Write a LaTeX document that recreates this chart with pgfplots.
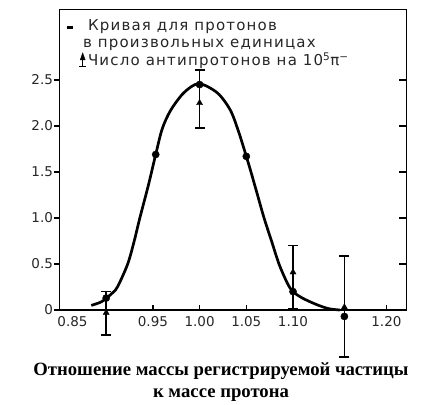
\documentclass[border=0pt]{standalone}
\usepackage{fontspec}
\setmainfont{DejaVu Sans}
\newfontfamily\legfont[LetterSpace=8]{DejaVu Sans}
\newfontfamily\serifb{Liberation Serif}
\usepackage{pgfplots}
\pgfplotsset{compat=1.18}
\begin{document}
\begin{tikzpicture}[x=1pt,y=1pt]
\path (-59.5,-95) rectangle (380.5,310);
\begin{axis}[
  at={(0,0)}, anchor=south west,
  scale only axis, width=347pt, height=300.5pt,
  xmin=0.85, xmax=1.2215, ymin=0, ymax=3.266,
  xtick={0.85,0.95,1.00,1.05,1.10,1.20},
  xticklabels={\hspace*{26pt}0.85,0.95,1.00,1.05,1.10,1.20},
  ytick={0,0.5,1,1.5,2,2.5},
  yticklabels={0,0.5,1.0,1.5,2.0,2.5},
  xtick pos=bottom, ytick pos=left,
  xtick align=inside, ytick align=outside,
  major tick length=5pt,
  tick style={line width=1.2pt, black},
  axis line style={line width=1.7pt, black},
  ticklabel style={font=\fontsize{13.5}{15}\selectfont, text=black!85},
  xticklabel style={yshift=-3pt},
  yticklabel style={xshift=2pt},
  /pgf/number format/assume math mode=true,
  clip=false,
  xlabel={Отношение массы регистрируемой частицы\\к массе протона},
  xlabel style={font=\serifb\bfseries\fontsize{18.7}{22}\selectfont, align=center,
    at={(axis description cs:0.5,0)}, anchor=north, yshift=-49pt, xshift=-12pt},
  legend style={at={(axis description cs:0,1)}, anchor=north west, draw=none, fill=none,
    xshift=5pt, yshift=-8pt,
    font=\legfont\fontsize{15}{17}\selectfont, row sep=0pt, inner sep=1pt, text=black!85,
    nodes={inner sep=1pt, text height=11pt, text depth=4pt}},
  legend cell align=left,
]
\addlegendimage{legend image code/.code={\path (0pt,0pt) (18.5pt,0pt); \draw[line width=3pt] (0pt,0pt) -- (6pt,0pt);}}
\addlegendentry{Кривая для протонов}
\addlegendimage{legend image code/.code={\path (0pt,0pt) (18.5pt,0pt);}}
\addlegendentry{\hspace*{-5pt}в произвольных единицах}
\addlegendimage{legend image code/.code={
  \path (0pt,0pt) (18.5pt,0pt);
  \draw[line width=1.6pt] (15.5pt,-4pt) -- (15.5pt,4pt);
  \draw[line width=1.6pt] (12pt,-4pt) -- (19pt,-4pt);
  \fill (15.5pt,9.5pt) -- (13pt,2.5pt) -- (18pt,2.5pt) -- cycle;}}
\addlegendentry{Число антипротонов на 10\textsuperscript{5}π\textsuperscript{−}}

% proton curve
\addplot[smooth, tension=0.5, line width=2.7pt, black, forget plot] coordinates {
(0.884,0.05) (0.895,0.09) (0.905,0.17) (0.912,0.25) (0.923,0.5) (0.930,0.75)
(0.936,1.0) (0.945,1.35) (0.953,1.69) (0.960,1.97) (0.969,2.17) (0.983,2.36)
(0.999,2.46) (1.019,2.36) (1.033,2.17) (1.042,1.93)
(1.050,1.67) (1.055,1.5) (1.062,1.25) (1.069,1.0) (1.077,0.75) (1.085,0.5)
(1.094,0.29) (1.100,0.2) (1.110,0.13) (1.125,0.06) (1.138,0.015) (1.150,0.0)
};
% proton points
\addplot[only marks, mark=*, mark size=3.6pt, black, forget plot] coordinates {
(0.900,0.13) (0.953,1.69) (1.000,2.45) (1.050,1.67) (1.100,0.2) (1.155,-0.07)
};
% antiprotons with error bars
\addplot[only marks, mark=triangle*, mark size=3.5pt, black, forget plot,
  error bars/.cd, y dir=both, y explicit, error mark=none,
  error bar style={line width=1.6pt, black}] coordinates {
(0.900,-0.03) += (0,0.23) -= (0,0.24)
(1.000,2.25) += (0,0.36) -= (0,0.27)
(1.100,0.41) += (0,0.29) -= (0,0.40)
(1.155,0.03) += (0,0.56) -= (0,0.54)
};
% error bar caps
\addplot[only marks, mark=-, mark size=5pt, black, mark options={line width=1.8pt}, forget plot] coordinates {
(0.900,0.20) (0.900,-0.27)
(1.000,2.61) (1.000,1.98)
(1.100,0.70) (1.100,0.01)
(1.155,0.59) (1.155,-0.51)
};
\end{axis}
\begin{axis}[
  at={(0,0)}, anchor=south west,
  scale only axis, width=347pt, height=300.5pt,
  xmin=0.85, xmax=1.2215, ymin=0, ymax=3.266,
  axis line style={draw=none},
  xtick=\empty,
  ytick={0.5,1,1.5,2,2.5}, yticklabels={},
  ytick pos=right, ytick align=inside,
  major tick length=8pt,
  tick style={line width=1.2pt, black},
]
\end{axis}
\end{tikzpicture}
\end{document}
